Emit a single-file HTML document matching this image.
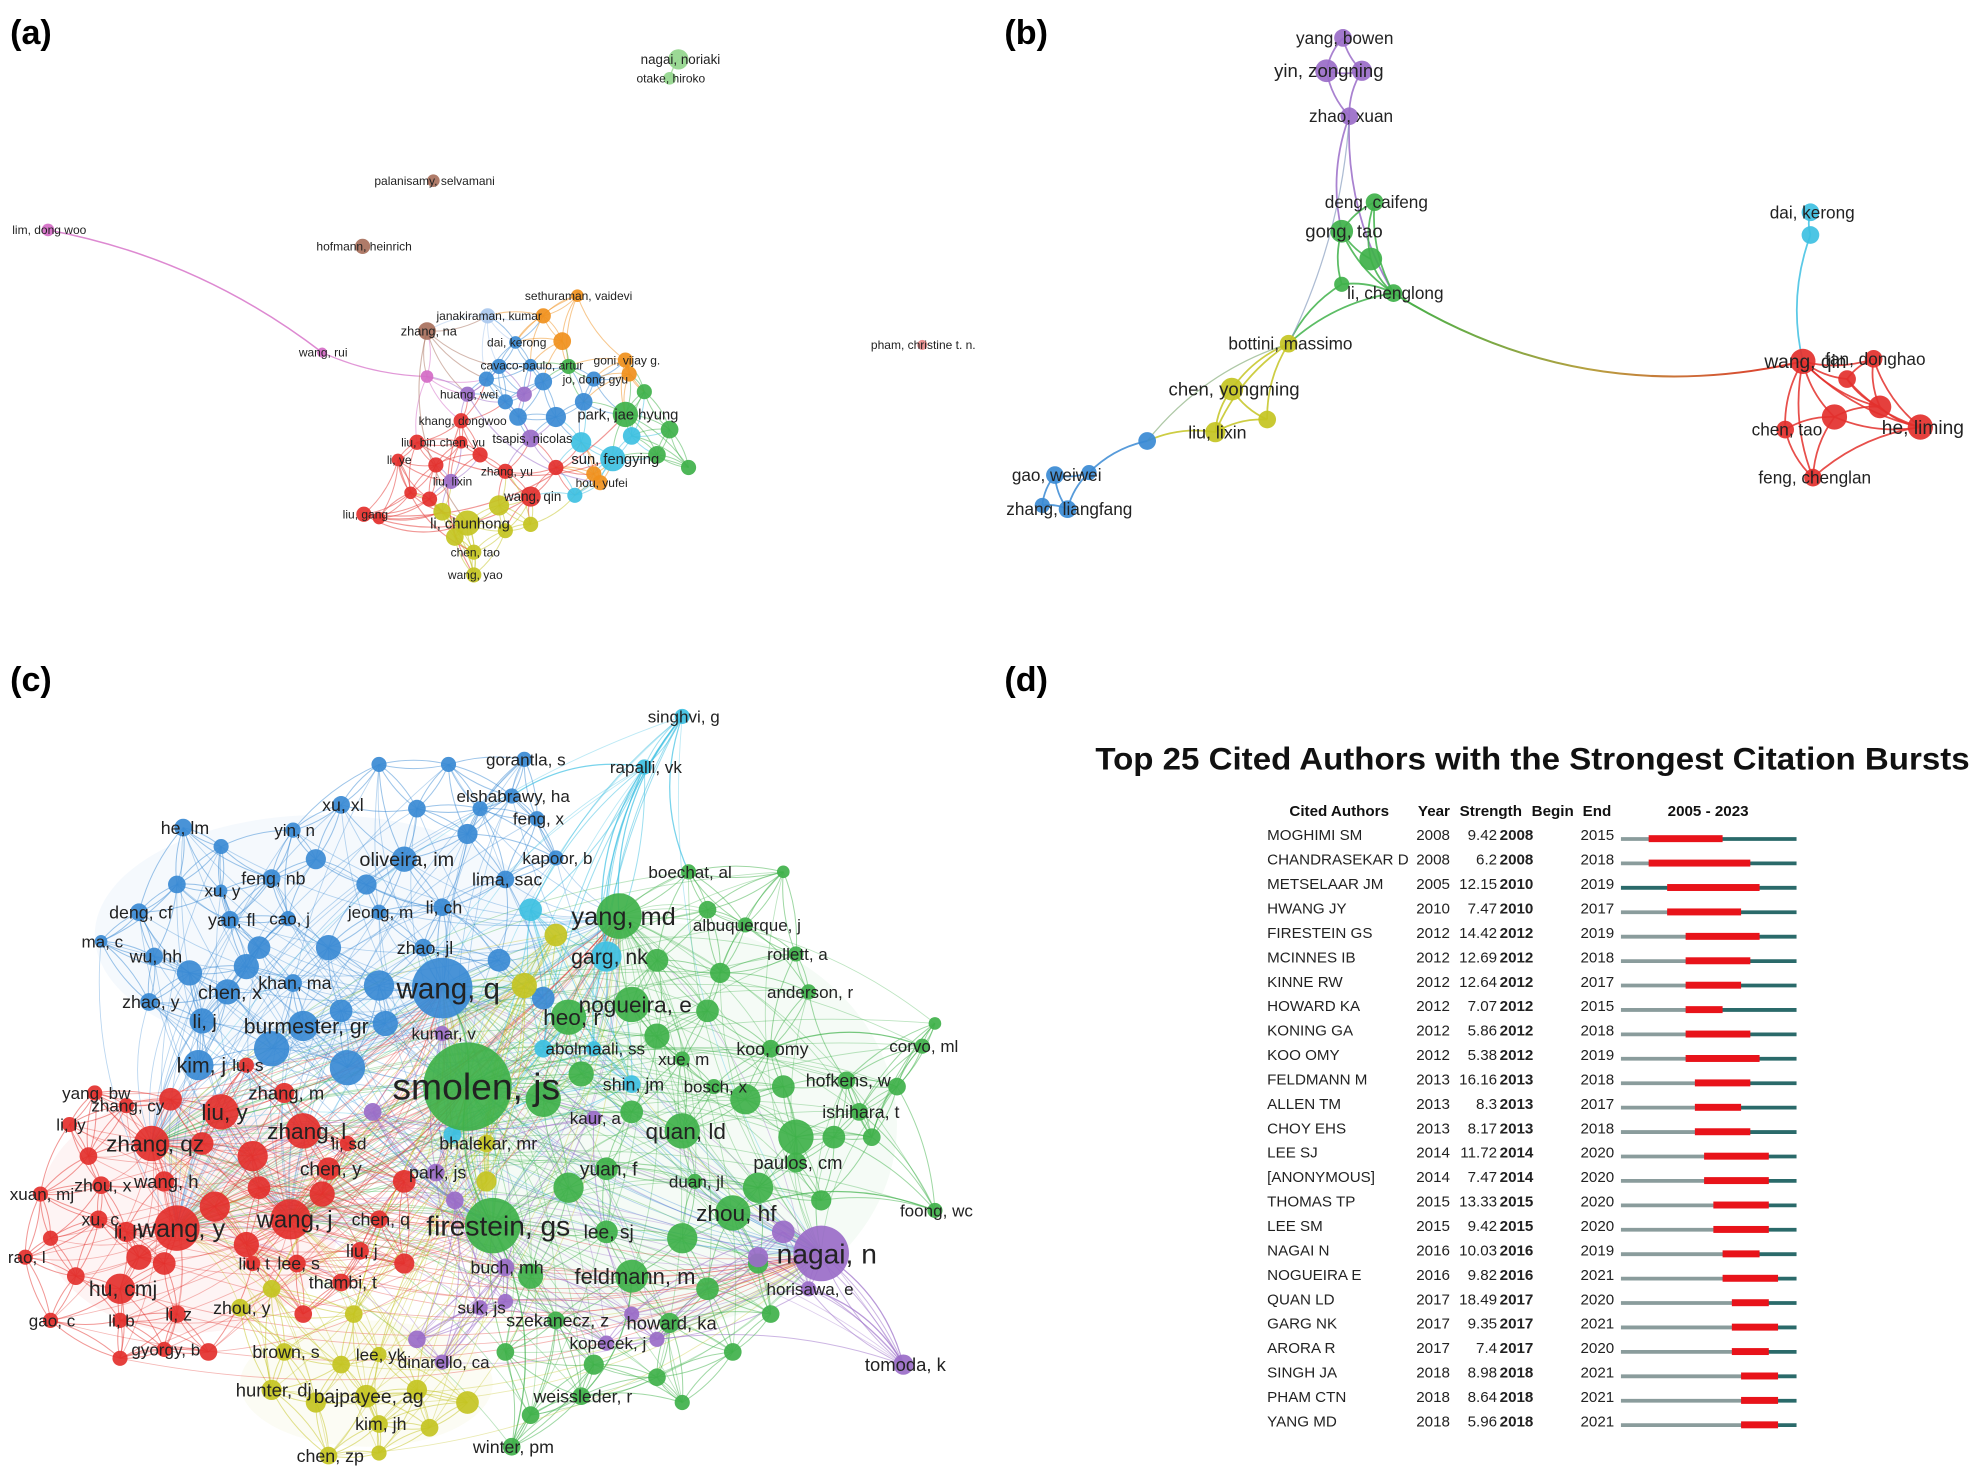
<!DOCTYPE html>
<html><head><meta charset="utf-8"><title>Co-authorship networks and citation bursts</title>
<style>
html,body{margin:0;padding:0;background:#fff;}
svg{display:block;}
text{font-family:"Liberation Sans Narrow","Liberation Sans",sans-serif;}
</style></head>
<body>
<svg id="fig" width="1981" height="1472" viewBox="0 0 1568 1165" preserveAspectRatio="none" xmlns="http://www.w3.org/2000/svg">
<rect x="0" y="0" width="1568" height="1165" fill="#fff"/>
<g id="bg"></g>
<g id="edges"></g>
<g id="nodes"></g>
<g id="labels"></g>
<g id="panelD"></g>
<text x="8" y="35" font-size="27" font-weight="bold" style="font-family:'Liberation Sans',sans-serif">(a)</text>
<text x="795" y="35" font-size="27" font-weight="bold" style="font-family:'Liberation Sans',sans-serif">(b)</text>
<text x="8" y="547" font-size="27" font-weight="bold" style="font-family:'Liberation Sans',sans-serif">(c)</text>
<text x="795" y="547" font-size="27" font-weight="bold" style="font-family:'Liberation Sans',sans-serif">(d)</text>
</svg>
<script>
const NS="http://www.w3.org/2000/svg";
const COL={b:"#3a8ad4",g:"#3fb14a",r:"#e3302c",y:"#c4c422",p:"#9a6cc8",c:"#3ec0e2",o:"#f0901c",lg:"#93d68c",br:"#a8705c",pk:"#d46bc6",lb:"#a9c8ee",sa:"#e88a8a"};

// ---- Panel (a) nodes: label, x, y, radius, color
const nodesA=[
["nagai, noriaki",537,47,8,"lg"],["otake, hiroko",530,62,5,"lg"],["palanisamy, selvamani",343,143,5,"br"],
["lim, dong woo",38,182,5,"pk"],["hofmann, heinrich",287,195,6,"br"],["sethuraman, vaidevi",457,234,5,"o"],
["janakiraman, kumar",386,250,6,"lb"],["zhang, na",338,262,7,"br"],["wang, rui",255,279,4,"pk"],
["dai, kerong",408,271,5,"b"],["goni, vijay g.",495,285,6,"o"],["cavaco-paulo, artur",420,289,5,"b"],
["pham, christine t. n.",730,273,4,"sa"],["huang, wei",370,312,6,"p"],["jo, dong gyu",470,300,6,"b"],
["park, jae hyung",495,328,10,"g"],["khang, dongwoo",365,333,6,"r"],["liu, bin",330,350,6,"r"],
["chen, yu",365,350,5,"r"],["tsapis, nicolas",420,347,7,"p"],["sun, fengying",485,363,10,"c"],
["li, ye",315,364,5,"r"],["liu, lixin",357,381,6,"p"],["zhang, yu",400,373,6,"r"],["hou, yufei",475,382,6,"o"],
["wang, qin",420,393,8,"r"],["liu, gang",288,407,6,"r"],["li, chunhong",370,414,10,"y"],["chen, tao",375,437,6,"y"],["wang, yao",375,455,6,"y"]
];
const fillA=[[338,298,5,"pk"],[395,290,6,"b"],[430,302,7,"b"],[450,290,6,"g"],[462,318,7,"b"],[440,330,8,"b"],[400,318,6,"b"],[385,300,6,"b"],[415,312,6,"p"],[510,310,6,"g"],[530,340,7,"g"],[545,370,6,"g"],[520,360,7,"g"],[500,345,7,"c"],[460,350,8,"c"],[470,375,6,"o"],[455,392,6,"c"],[440,370,6,"r"],[380,360,6,"r"],[345,368,6,"r"],[325,390,5,"r"],[395,400,8,"y"],[350,405,7,"y"],[360,425,7,"y"],[400,420,6,"y"],[420,415,6,"y"],[340,395,6,"r"],[430,250,6,"o"],[445,270,7,"o"],[498,296,6,"o"],[410,330,7,"b"],[300,410,5,"r"]];

// ---- Panel (b) nodes
const nodesB=[
["yang, bowen",1063,30,7,"p"],["yin, zongning",1050,56,9,"p"],["",1078,56,8,"p"],["zhao, xuan",1068,92,7,"p"],
["deng, caifeng",1088,160,7,"g"],["gong, tao",1062,183,9,"g"],["",1085,205,9,"g"],["li, chenglong",1103,232,7,"g"],["",1062,225,6,"g"],
["bottini, massimo",1020,272,7,"y"],["chen, yongming",975,308,9,"y"],["",1003,332,7,"y"],["liu, lixin",962,342,8,"y"],
["",908,349,7,"b"],["gao, weiwei",835,376,7,"b"],["",862,374,6,"b"],["zhang, liangfang",845,403,7,"b"],["",825,400,6,"b"],
["dai, kerong",1433,168,7,"c"],["",1433,186,7,"c"],
["wang, qin",1427,286,10,"r"],["fan, donghao",1483,284,7,"r"],["",1488,322,9,"r"],["",1452,330,10,"r"],["he, liming",1520,338,10,"r"],
["chen, tao",1413,340,7,"r"],["feng, chenglan",1435,378,7,"r"],["",1462,300,7,"r"]
];
const edgesB=[[0,1],[0,2],[1,2],[1,3],[2,3],[3,5],[3,7],[4,5],[4,6],[5,6],[5,8],[6,7],[7,8],[4,7],[5,7],[8,9],[7,9],[9,10],[9,11],[10,11],[10,12],[11,12],[9,12],[12,13],[13,15],[14,15],[14,16],[15,16],[16,17],[14,17],[18,19],[19,20],[7,20],
[20,21],[20,22],[20,23],[20,24],[20,25],[20,26],[20,27],[21,22],[21,24],[22,23],[22,24],[23,25],[23,26],[24,26],[25,26],[27,22],[27,24],[21,27],[23,24]];

// ---- Panel (c) nodes
const nodesC=[
["wang, q",350,782,24,"b"],["burmester, gr",240,812,12,"b"],["chen, x",180,785,10,"b"],["li, j",160,808,10,"b"],["oliveira, im",320,680,10,"b"],
["xu, xl",270,637,7,"b"],["he, lm",145,655,7,"b"],["yin, n",232,657,6,"b"],["feng, nb",215,695,7,"b"],["deng, cf",110,722,7,"b"],["yan, fl",182,728,7,"b"],
["cao, j",228,727,6,"b"],["wu, hh",122,757,7,"b"],["ma, c",80,745,5,"b"],["zhao, y",118,793,7,"b"],["khan, ma",232,778,7,"b"],["lima, sac",400,696,7,"b"],
["li, ch",350,718,7,"b"],["jeong, m",300,722,6,"b"],["zhao, jl",335,750,7,"b"],["elshabrawy, ha",405,630,6,"b"],["gorantla, s",415,601,6,"b"],["feng, x",425,648,6,"b"],
["kapoor, b",440,679,6,"b"],["xu, y",175,705,5,"b"],["kim, j",157,843,12,"b"],
["singhvi, g",540,567,6,"c"],["rapalli, vk",510,607,6,"c"],["garg, nk",480,757,12,"c"],["abolmaali, ss",470,830,6,"c"],
["smolen, js",370,860,35,"g"],["yang, md",490,725,18,"g"],["nogueira, e",500,795,14,"g"],["heo, r",450,805,14,"g"],["koo, omy",610,830,7,"g"],
["quan, ld",540,895,14,"g"],["firestein, gs",390,970,22,"g"],["feldmann, m",500,1010,13,"g"],["zhou, hf",580,960,14,"g"],["yuan, f",480,925,9,"g"],
["paulos, cm",630,920,8,"g"],["hofkens, w",670,855,7,"g"],["ishihara, t",680,880,7,"g"],["lee, sj",480,975,9,"g"],["anderson, r",640,785,6,"g"],
["rollett, a",630,755,6,"g"],["albuquerque, j",590,732,6,"g"],["boechat, al",545,690,6,"g"],["corvo, ml",730,828,6,"g"],["foong, wc",740,958,6,"g"],
["howard, ka",530,1047,8,"g"],["szekanecz, z",440,1045,7,"g"],["winter, pm",405,1145,7,"g"],["weissleder, r",460,1105,7,"g"],["shin, jm",500,858,7,"c"],
["xue, m",540,838,6,"g"],["bosch, x",565,860,6,"g"],["kaur, a",470,885,6,"p"],["duan, jl",550,935,6,"g"],
["nagai, n",650,992,22,"p"],["tomoda, k",715,1080,8,"p"],["horisawa, e",640,1020,6,"p"],["kumar, v",350,818,6,"p"],["park, js",345,928,7,"p"],
["suk, js",380,1035,6,"p"],["dinarello, ca",350,1078,6,"p"],["kopecek, j",480,1063,6,"p"],["buch, mh",400,1003,7,"p"],
["zhang, qz",120,905,14,"r"],["liu, y",175,880,14,"r"],["zhang, l",240,895,14,"r"],["wang, y",140,972,18,"r"],["wang, j",230,965,16,"r"],
["wang, h",130,935,8,"r"],["hu, cmj",95,1020,12,"r"],["li, h",100,975,8,"r"],["xu, c",78,965,7,"r"],["zhou, x",80,938,7,"r"],
["xuan, mj",32,945,6,"r"],["rao, l",20,995,6,"r"],["gao, c",40,1045,6,"r"],["li, b",95,1045,6,"r"],["gyorgy, b",130,1068,6,"r"],
["li, z",140,1040,7,"r"],["yang, bw",75,865,6,"r"],["zhang, cy",100,875,6,"r"],["li, ly",55,890,6,"r"],["zhang, m",225,865,8,"r"],
["lu, s",195,843,6,"r"],["li, sd",275,905,6,"r"],["chen, y",260,925,9,"r"],["chen, q",300,965,7,"r"],["liu, j",285,990,7,"r"],
["lee, s",235,1000,7,"r"],["liu, t",200,1000,6,"r"],["thambi, t",270,1015,7,"r"],
["bhalekar, mr",385,905,7,"y"],["brown, s",225,1070,7,"y"],["hunter, dj",215,1100,8,"y"],["bajpayee, ag",290,1105,9,"y"],["kim, jh",300,1127,7,"y"],
["chen, zp",260,1152,7,"y"],["lee, yk",300,1072,6,"y"],["zhou, y",190,1035,7,"y"]
];
const fillC=[
[300,780,12,"b"],[275,845,14,"b"],[215,830,14,"b"],[195,765,10,"b"],[260,750,10,"b"],[290,700,8,"b"],[330,640,7,"b"],[370,660,8,"b"],[250,680,8,"b"],[150,770,10,"b"],[205,750,9,"b"],[395,760,9,"b"],[430,790,9,"b"],[300,605,6,"b"],[355,605,6,"b"],[380,640,6,"b"],[140,700,7,"b"],[175,670,6,"b"],[305,810,10,"b"],[270,800,9,"b"],[420,720,9,"c"],[440,740,9,"y"],[415,780,10,"y"],[430,830,7,"c"],[358,898,7,"c"],
[430,870,14,"g"],[460,850,10,"g"],[520,820,10,"g"],[560,800,9,"g"],[590,870,12,"g"],[630,900,14,"g"],[600,940,12,"g"],[540,980,12,"g"],[450,940,12,"g"],[420,1010,10,"g"],[560,1020,9,"g"],[600,1000,8,"g"],[650,950,8,"g"],[690,900,7,"g"],[710,860,7,"g"],[620,860,9,"g"],[520,760,9,"g"],[570,770,8,"g"],[470,1080,8,"g"],[520,1090,7,"g"],[420,1120,7,"g"],[610,1040,7,"g"],[580,1070,7,"g"],[660,900,9,"g"],[500,880,9,"g"],[560,720,7,"g"],[400,1070,7,"g"],[540,1110,6,"g"],[740,810,5,"g"],[620,690,5,"g"],
[200,915,12,"r"],[170,955,12,"r"],[195,985,10,"r"],[110,995,10,"r"],[60,1010,7,"r"],[130,1000,9,"r"],[160,905,9,"r"],[255,945,10,"r"],[205,940,9,"r"],[320,935,9,"r"],[320,1000,8,"r"],[95,1075,6,"r"],[165,1070,7,"r"],[240,1040,7,"r"],[70,915,7,"r"],[135,870,9,"r"],[40,980,6,"r"],
[250,1110,8,"y"],[330,1100,8,"y"],[370,1110,9,"y"],[270,1080,7,"y"],[340,1130,7,"y"],[300,1150,6,"y"],[215,1020,7,"y"],[280,1040,7,"y"],[385,935,8,"y"],
[620,975,9,"p"],[600,995,8,"p"],[330,1060,7,"p"],[500,1040,6,"p"],[520,1060,6,"p"],[295,880,7,"p"],[360,950,7,"p"],[400,1030,6,"p"]
];
const hubsC=[0,30,31,36,59,71,72,68];

// ---- Panel (d) burst data
const burstAuthors=["MOGHIMI SM","CHANDRASEKAR D","METSELAAR JM","HWANG JY","FIRESTEIN GS","MCINNES IB","KINNE RW","HOWARD KA","KONING GA","KOO OMY","FELDMANN M","ALLEN TM","CHOY EHS","LEE SJ","[ANONYMOUS]","THOMAS TP","LEE SM","NAGAI N","NOGUEIRA E","QUAN LD","GARG NK","ARORA R","SINGH JA","PHAM CTN","YANG MD"];
const burstYear=[2008,2008,2005,2010,2012,2012,2012,2012,2012,2012,2013,2013,2013,2014,2014,2015,2015,2016,2016,2017,2017,2017,2018,2018,2018];
const burstStrength=["9.42","6.2","12.15","7.47","14.42","12.69","12.64","7.07","5.86","5.38","16.16","8.3","8.17","11.72","7.47","13.33","9.42","10.03","9.82","18.49","9.35","7.4","8.98","8.64","5.96"];
const burstBegin=[2008,2008,2010,2010,2012,2012,2012,2012,2012,2012,2013,2013,2013,2014,2014,2015,2015,2016,2016,2017,2017,2017,2018,2018,2018];
const burstEnd=[2015,2018,2019,2017,2019,2018,2017,2015,2018,2019,2018,2017,2018,2020,2020,2020,2020,2019,2021,2020,2021,2020,2021,2021,2021];
const yearStart=2005, yearEnd=2023;

const bg=document.getElementById('bg'),E=document.getElementById('edges'),N=document.getElementById('nodes'),L=document.getElementById('labels');
function mk(tag,attrs,parent){const e=document.createElementNS(NS,tag);for(const k in attrs)e.setAttribute(k,attrs[k]);parent.appendChild(e);return e;}
function curve(a,b,col,op,w,bend){
  const mx=(a[1]+b[1])/2,my=(a[2]+b[2])/2,dx=b[1]-a[1],dy=b[2]-a[2];
  const cx=mx-dy*bend,cy=my+dx*bend;
  const p=mk('path',{d:`M${a[1]},${a[2]} Q${cx},${cy} ${b[1]},${b[2]}`,fill:'none',stroke:col,'stroke-opacity':op,'stroke-width':w},E);
  
  
}
function nearest(list,i,k,sameColor){
  const a=list[i];const d=[];
  list.forEach((b,j)=>{if(j!==i&&(!sameColor||b[4]===a[4]))d.push([Math.hypot(b[1]-a[1],b[2]-a[2]),j]);});
  d.sort((x,y)=>x[0]-y[0]);return d.slice(0,k).map(x=>x[1]);
}
function drawNodes(list,prefix){
  list.forEach(n=>{
    const c=mk('circle',{cx:n[1],cy:n[2],r:n[3],fill:COL[n[4]],'fill-opacity':0.92},N);
    
    
  });
}
function drawFill(list,prefix){
  list.forEach(n=>{
    const c=mk('circle',{cx:n[0],cy:n[1],r:n[2],fill:COL[n[3]],'fill-opacity':0.92},N);
    
    
  });
}
function drawLabels(list,prefix,baseSize){
  list.forEach(n=>{
    if(!n[0])return;
    const fs=baseSize+Math.max(0,(n[3]-6))*0.55;
    const t=mk('text',{x:n[1]+n[3]*0.2,y:n[2]+fs*0.35,'font-size':fs.toFixed(1),fill:'#222','text-anchor':'middle'},L);
    t.textContent=n[0];
    
    
  });
}

// ---------- Panel A ----------
const allA=nodesA.map(n=>n).concat(fillA.map(f=>["",f[0],f[1],f[2],f[3]]));
curve(allA[3],allA[8],COL.pk,0.8,1.2,-0.12);
curve(allA[8],allA[30],COL.pk,0.7,1,0.1);
const clusterA=allA.map((n,i)=>i).filter(i=>![0,1,2,3,4,8,12].includes(i));
clusterA.forEach(i=>{
  const sub=clusterA.map(j=>allA[j]);
  const k=clusterA.indexOf(i);
  nearest(sub,k,5,false).forEach(j=>curve(allA[i],sub[j],COL[allA[i][4]],0.5,0.8,0.15));
});
[[26,27],[26,25],[26,15],[17,20],[21,28],[13,24],[7,27],[16,29]].forEach(p=>curve(allA[p[0]],allA[p[1]],COL[allA[p[0]][4]],0.5,0.9,0.25));
curve(allA[0],allA[1],COL.lg,0.8,1,0.1);
drawFill(fillA,'panel-a');
drawNodes(nodesA,'panel-a');
drawLabels(nodesA,'panel-a',9.5);

// ---------- Panel B ----------
edgesB.forEach(e=>{
  const a=nodesB[e[0]],b=nodesB[e[1]];
  const long=Math.hypot(b[1]-a[1],b[2]-a[2])>200;
  if(long){
    const gid='g'+e[0]+'_'+e[1];
    const defs=mk('defs',{},E);const lg=mk('linearGradient',{id:gid,x1:a[1],y1:a[2],x2:b[1],y2:b[2],gradientUnits:'userSpaceOnUse'},defs);
    mk('stop',{offset:'0','stop-color':COL[a[4]]},lg);mk('stop',{offset:'0.5','stop-color':'#b8a040'},lg);mk('stop',{offset:'1','stop-color':COL[b[4]]},lg);
    const p=mk('path',{d:`M${a[1]},${a[2]} Q${a[1]+150},${b[2]+40} ${b[1]},${b[2]}`,fill:'none',stroke:`url(#${gid})`,'stroke-width':1.6},E);
    
    
  } else curve(a,b,COL[a[4]],0.85,1.4,0.15);
});
curve(nodesB[3],nodesB[9],"#8aa0c0",0.7,1,-0.1);
curve(nodesB[9],nodesB[13],"#8cb080",0.7,1,0.15);
drawNodes(nodesB,'panel-b');
drawLabels(nodesB,'panel-b',13);

// ---------- Panel C ----------
[["g",520,890,190,160],["b",255,740,180,95],["r",150,960,120,95],["y",290,1095,100,50]].forEach(b=>{
  const el=mk('ellipse',{cx:b[1],cy:b[2],rx:b[3],ry:b[4],fill:COL[b[0]],'fill-opacity':0.05},bg);
  
  
});
const allC=nodesC.concat(fillC.map(f=>["",f[0],f[1],f[2],f[3]]));
allC.forEach((n,i)=>{
  nearest(allC,i,5,true).forEach(j=>curve(n,allC[j],COL[n[4]],0.5,0.8,0.12));
  hubsC.forEach((h,k)=>{if((i+k)%3===0&&h!==i)curve(n,allC[h],COL[n[4]],0.35,0.7,0.18);});
});
[[26,31],[26,28],[27,28],[27,20],[26,47],[48,34],[49,38],[60,59],[60,61],[59,38],[52,36],[53,37],[30,0],[30,36]].forEach(p=>curve(allC[p[0]],allC[p[1]],COL[allC[p[0]][4]],0.7,1,0.2));
drawFill(fillC,'panel-c');
drawNodes(nodesC,'panel-c');
drawLabels(nodesC,'panel-c',13.5);

// ---------- Panel D ----------
const D=document.getElementById('panelD');
const t=mk('text',{x:1213,y:609,'font-size':25,'font-weight':'bold','text-anchor':'middle',fill:'#111',textLength:692,lengthAdjust:'spacingAndGlyphs',style:"font-family:'Liberation Sans',sans-serif"},D);
t.textContent="Top 25 Cited Authors with the Strongest Citation Bursts";


const hdr=[["Cited Authors",1060,'middle'],["Year",1135,'middle'],["Strength",1180,'middle'],["Begin",1229,'middle'],["End",1264,'middle'],["2005 - 2023",1352,'middle']];
hdr.forEach(h=>{
  const e=mk('text',{x:h[1],y:646,'font-size':12,'font-weight':'bold','text-anchor':h[2],fill:'#111',style:"font-family:'Liberation Sans Narrow','Liberation Sans',sans-serif"},D);
  e.textContent=h[0];
  
  
});
const barX0=1283,barX1=1422,yrW=(barX1-barX0)/(yearEnd-yearStart+1);
const xYear=y=>barX0+(y-yearStart)*yrW;
burstAuthors.forEach((name,i)=>{
  const y=665+i*19.33;
  const cells=[[name,1003,'start','normal'],[String(burstYear[i]),1121,'start','normal'],[burstStrength[i],1185,'end','normal'],[String(burstBegin[i]),1187,'start','bold'],[String(burstEnd[i]),1251,'start','normal']];
  cells.forEach(c=>{
    const e=mk('text',{x:c[1],y:y,'font-size':12,'text-anchor':c[2],'font-weight':c[3],fill:'#222',style:"font-family:'Liberation Sans',sans-serif"},D);
    e.textContent=c[0];
    
    
  });
  const by=y-1;
  const g1=mk('line',{x1:barX0,y1:by,x2:xYear(burstYear[i]),y2:by,stroke:'#8a9c9c','stroke-width':3},D);
  
  
  const g2=mk('line',{x1:xYear(burstYear[i]),y1:by,x2:barX1,y2:by,stroke:'#2a6a6a','stroke-width':3},D);
  
  
  const r=mk('rect',{x:xYear(burstBegin[i]),y:by-3,width:xYear(burstEnd[i]+1)-xYear(burstBegin[i]),height:5.5,fill:'#e8131a'},D);
  
  
});
</script>
</body></html>
